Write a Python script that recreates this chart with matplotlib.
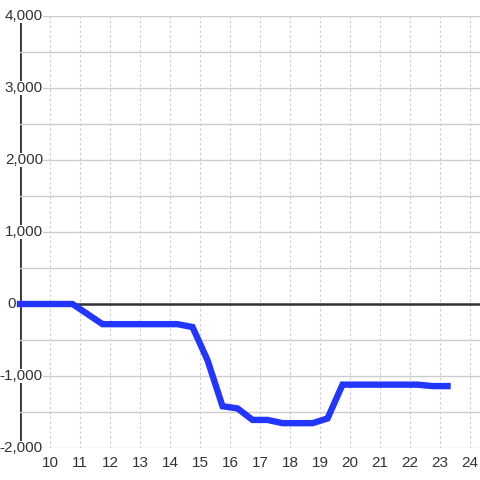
import matplotlib
matplotlib.use("Agg")
import matplotlib.pyplot as plt
from matplotlib.ticker import MultipleLocator

# 数据
hours = [9.0, 9.25, 9.75, 10.25, 10.75, 11.25, 11.75, 12.25, 12.75, 13.25, 13.75,
         14.25, 14.75, 15.25, 15.75, 16.25, 16.75, 17.25, 17.75, 18.25, 18.75,
         19.25, 19.75, 20.25, 20.75, 21.25, 21.75, 22.25, 22.75, 23.25]
values = [0, 0, 0, 0, 0, -140, -280, -280, -280, -280, -280,
          -280, -320, -780, -1420, -1450, -1610, -1610, -1655, -1655, -1655,
          -1590, -1120, -1120, -1120, -1120, -1120, -1120, -1140, -1140]

x_ticks = list(range(10, 25))
y_ticks = [-2000, -1000, 0, 1000, 2000, 3000, 4000]

text_color = "#333333"
grid_color = "#cccccc"
line_color = "#2236ff"

plt.rcParams['font.family'] = ['Liberation Sans', 'DejaVu Sans']

fig = plt.figure(figsize=(4.8, 4.8), dpi=100)
ax = fig.add_axes([20 / 480, 32 / 480, 460 / 480, 432 / 480])
ax.set_xlim(9, 9 + 460 / 30)
ax.set_ylim(-2000, 4000)

for side in ["top", "right", "bottom", "left"]:
    ax.spines[side].set_visible(False)

# 网格
ax.set_axisbelow(True)
ax.set_yticks(y_ticks)
ax.yaxis.set_minor_locator(MultipleLocator(500))
ax.set_xticks(x_ticks)
ax.grid(axis="y", which="both", color=grid_color, lw=1.0, ls="-")
ax.grid(axis="x", which="major", color=grid_color, lw=0.8, ls=(0, (2.2, 2.2)))

# 坐标轴线
ax.axvline(9, color=text_color, lw=2.0, zorder=0.4)
ax.axhline(0, color=text_color, lw=1.8, zorder=1.5)

# 刻度标签
ax.tick_params(axis="both", which="both", length=0, labelsize=11, labelcolor=text_color)
ax.tick_params(axis="x", pad=6)
ax.tick_params(axis="y", labelleft=False)

# y 轴标签压在轴线上（白底）
ytrans = ax.get_yaxis_transform()
for v in y_ticks:
    label = f"{v:,}"
    xpos = -4 / 460 if v == 0 else 23 / 460
    ax.text(xpos, v, label, transform=ytrans, ha="right", va="center",
            fontsize=11, color=text_color, zorder=2.5, clip_on=False,
            bbox=dict(facecolor="white", edgecolor="none", pad=0))

# 数据线
ax.plot(hours, values, color=line_color, lw=4.6, solid_joinstyle="miter",
        solid_capstyle="projecting", zorder=3, clip_on=False)

fig.savefig("out.png", dpi=100, facecolor="white")
